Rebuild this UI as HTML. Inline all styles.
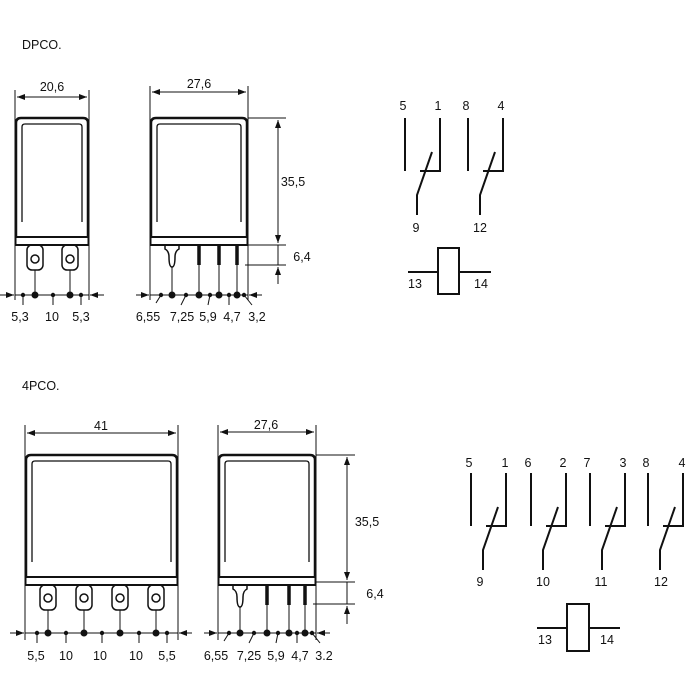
<!DOCTYPE html>
<html><head><meta charset="utf-8"><style>
html,body{margin:0;padding:0;background:#fff}
svg{display:block}
text{font-family:"Liberation Sans",Arial,sans-serif;font-size:12.5px;fill:#111}
</style></head><body>
<svg width="700" height="700" viewBox="0 0 700 700" xmlns="http://www.w3.org/2000/svg">
<defs>
<marker id="a" markerWidth="8" markerHeight="6" refX="8" refY="3" orient="auto-start-reverse" markerUnits="userSpaceOnUse"><path d="M0,0 L8,3 L0,6 Z" fill="#111"/></marker>
<g id="contact" stroke="#111" stroke-width="2" fill="none">
<line x1="0" y1="0" x2="0" y2="53"/>
<polyline points="35,0 35,53 15,53"/>
<polyline points="12,97 12,77 27,34"/>
</g>
</defs>

<text x="22" y="49">DPCO.</text>
<text x="22" y="390">4PCO.</text>

<g stroke="#111" fill="none">
<!-- ===== DPCO front ===== -->
<line x1="15" y1="90" x2="15" y2="300" stroke-width="1"/>
<line x1="89" y1="90" x2="89" y2="300" stroke-width="1"/>
<line x1="17" y1="97" x2="87" y2="97" stroke-width="1" marker-start="url(#a)" marker-end="url(#a)"/>
<path d="M16,238 V123 Q16,118 21,118 H83 Q88,118 88,123 V238" stroke-width="2.5"/>
<path d="M22,222 V127 Q22,124 25,124 H79 Q82,124 82,127 V222" stroke-width="1.3"/>
<rect x="15.5" y="237" width="73" height="8" stroke-width="2" fill="#fff"/>
<rect x="27" y="245" width="16" height="25" rx="5" stroke-width="1.5"/>
<circle cx="35" cy="259" r="4" stroke-width="1.5"/>
<rect x="62" y="245" width="16" height="25" rx="5" stroke-width="1.5"/>
<circle cx="70" cy="259" r="4" stroke-width="1.5"/>
<line x1="35" y1="270" x2="35" y2="295" stroke-width="1"/>
<line x1="70" y1="270" x2="70" y2="295" stroke-width="1"/>
<line x1="0" y1="295" x2="14" y2="295" stroke-width="1" marker-end="url(#a)"/>
<line x1="104" y1="295" x2="90" y2="295" stroke-width="1" marker-end="url(#a)"/>
<line x1="15" y1="295" x2="89" y2="295" stroke-width="1"/>
<line x1="23" y1="295" x2="23" y2="305" stroke-width="1"/>
<line x1="53" y1="295" x2="53" y2="305" stroke-width="1"/>
<line x1="81" y1="295" x2="81" y2="305" stroke-width="1"/>

<!-- ===== DPCO side ===== -->
<line x1="150" y1="86" x2="150" y2="300" stroke-width="1"/>
<line x1="248" y1="86" x2="248" y2="300" stroke-width="1"/>
<line x1="152" y1="92" x2="246" y2="92" stroke-width="1" marker-start="url(#a)" marker-end="url(#a)"/>
<path d="M151,238 V123 Q151,118 156,118 H242 Q247,118 247,123 V238" stroke-width="2.5"/>
<path d="M157,222 V127 Q157,124 160,124 H238 Q241,124 241,127 V222" stroke-width="1.3"/>
<rect x="150.5" y="237" width="97" height="8" stroke-width="2" fill="#fff"/>
<path d="M165,245 V249 Q169,251 169,257 Q169,267 172,267 Q175,267 175,257 Q175,251 179,249 V245" stroke-width="1.5"/>
<line x1="172" y1="267" x2="172" y2="295" stroke-width="1"/>
<line x1="199" y1="245" x2="199" y2="265" stroke-width="3.5"/>
<line x1="219" y1="245" x2="219" y2="265" stroke-width="3.5"/>
<line x1="237" y1="245" x2="237" y2="265" stroke-width="3.5"/>
<line x1="199" y1="265" x2="199" y2="295" stroke-width="1"/>
<line x1="219" y1="265" x2="219" y2="295" stroke-width="1"/>
<line x1="237" y1="265" x2="237" y2="295" stroke-width="1"/>
<line x1="136" y1="295" x2="149" y2="295" stroke-width="1" marker-end="url(#a)"/>
<line x1="262" y1="295" x2="249" y2="295" stroke-width="1" marker-end="url(#a)"/>
<line x1="150" y1="295" x2="248" y2="295" stroke-width="1"/>
<line x1="161" y1="295" x2="156" y2="303" stroke-width="1"/>
<line x1="186" y1="295" x2="181" y2="305" stroke-width="1"/>
<line x1="210" y1="295" x2="208" y2="305" stroke-width="1"/>
<line x1="229" y1="295" x2="229" y2="305" stroke-width="1"/>
<line x1="244" y1="295" x2="252" y2="305" stroke-width="1"/>
<!-- vertical dims -->
<line x1="248" y1="118" x2="286" y2="118" stroke-width="1"/>
<line x1="248" y1="245" x2="286" y2="245" stroke-width="1"/>
<line x1="245" y1="265" x2="286" y2="265" stroke-width="1"/>
<line x1="278" y1="120" x2="278" y2="243" stroke-width="1" marker-start="url(#a)" marker-end="url(#a)"/>
<line x1="278" y1="245" x2="278" y2="265" stroke-width="1"/>
<line x1="278" y1="284" x2="278" y2="267" stroke-width="1" marker-end="url(#a)"/>

<!-- ===== 4PCO front ===== -->
<line x1="25" y1="425" x2="25" y2="640" stroke-width="1"/>
<line x1="178" y1="425" x2="178" y2="640" stroke-width="1"/>
<line x1="27" y1="433" x2="176" y2="433" stroke-width="1" marker-start="url(#a)" marker-end="url(#a)"/>
<path d="M26,578 V460 Q26,455 31,455 H172 Q177,455 177,460 V578" stroke-width="2.5"/>
<path d="M32,562 V464 Q32,461 35,461 H168 Q171,461 171,464 V562" stroke-width="1.3"/>
<rect x="25.5" y="577" width="152" height="8" stroke-width="2" fill="#fff"/>
<rect x="40" y="585" width="16" height="25" rx="5" stroke-width="1.5"/><circle cx="48" cy="598" r="4" stroke-width="1.5"/>
<rect x="76" y="585" width="16" height="25" rx="5" stroke-width="1.5"/><circle cx="84" cy="598" r="4" stroke-width="1.5"/>
<rect x="112" y="585" width="16" height="25" rx="5" stroke-width="1.5"/><circle cx="120" cy="598" r="4" stroke-width="1.5"/>
<rect x="148" y="585" width="16" height="25" rx="5" stroke-width="1.5"/><circle cx="156" cy="598" r="4" stroke-width="1.5"/>
<line x1="48" y1="610" x2="48" y2="633" stroke-width="1"/>
<line x1="84" y1="610" x2="84" y2="633" stroke-width="1"/>
<line x1="120" y1="610" x2="120" y2="633" stroke-width="1"/>
<line x1="156" y1="610" x2="156" y2="633" stroke-width="1"/>
<line x1="10" y1="633" x2="24" y2="633" stroke-width="1" marker-end="url(#a)"/>
<line x1="192" y1="633" x2="179" y2="633" stroke-width="1" marker-end="url(#a)"/>
<line x1="25" y1="633" x2="178" y2="633" stroke-width="1"/>
<line x1="37" y1="633" x2="37" y2="643" stroke-width="1"/>
<line x1="66" y1="633" x2="66" y2="643" stroke-width="1"/>
<line x1="102" y1="633" x2="102" y2="643" stroke-width="1"/>
<line x1="139" y1="633" x2="139" y2="643" stroke-width="1"/>
<line x1="167" y1="633" x2="167" y2="643" stroke-width="1"/>

<!-- ===== 4PCO side ===== -->
<line x1="218" y1="425" x2="218" y2="640" stroke-width="1"/>
<line x1="316" y1="425" x2="316" y2="640" stroke-width="1"/>
<line x1="220" y1="432" x2="314" y2="432" stroke-width="1" marker-start="url(#a)" marker-end="url(#a)"/>
<path d="M219,578 V460 Q219,455 224,455 H310 Q315,455 315,460 V578" stroke-width="2.5"/>
<path d="M225,562 V464 Q225,461 228,461 H306 Q309,461 309,464 V562" stroke-width="1.3"/>
<rect x="218.5" y="577" width="97" height="8" stroke-width="2" fill="#fff"/>
<path d="M233,585 V589 Q237,591 237,597 Q237,607 240,607 Q243,607 243,597 Q243,591 247,589 V585" stroke-width="1.5"/>
<line x1="240" y1="607" x2="240" y2="633" stroke-width="1"/>
<line x1="267" y1="585" x2="267" y2="605" stroke-width="3.5"/>
<line x1="289" y1="585" x2="289" y2="605" stroke-width="3.5"/>
<line x1="305" y1="585" x2="305" y2="605" stroke-width="3.5"/>
<line x1="267" y1="605" x2="267" y2="633" stroke-width="1"/>
<line x1="289" y1="605" x2="289" y2="633" stroke-width="1"/>
<line x1="305" y1="605" x2="305" y2="633" stroke-width="1"/>
<line x1="204" y1="633" x2="217" y2="633" stroke-width="1" marker-end="url(#a)"/>
<line x1="330" y1="633" x2="317" y2="633" stroke-width="1" marker-end="url(#a)"/>
<line x1="218" y1="633" x2="316" y2="633" stroke-width="1"/>
<line x1="229" y1="633" x2="224" y2="641" stroke-width="1"/>
<line x1="254" y1="633" x2="249" y2="643" stroke-width="1"/>
<line x1="278" y1="633" x2="276" y2="643" stroke-width="1"/>
<line x1="297" y1="633" x2="297" y2="643" stroke-width="1"/>
<line x1="312" y1="633" x2="320" y2="643" stroke-width="1"/>
<line x1="316" y1="455" x2="355" y2="455" stroke-width="1"/>
<line x1="316" y1="582" x2="355" y2="582" stroke-width="1"/>
<line x1="313" y1="604" x2="355" y2="604" stroke-width="1"/>
<line x1="347" y1="457" x2="347" y2="580" stroke-width="1" marker-start="url(#a)" marker-end="url(#a)"/>
<line x1="347" y1="582" x2="347" y2="604" stroke-width="1"/>
<line x1="347" y1="624" x2="347" y2="606" stroke-width="1" marker-end="url(#a)"/>

<!-- ===== schematics ===== -->
<use href="#contact" x="405" y="118"/>
<use href="#contact" x="468" y="118"/>
<rect x="438" y="248" width="21" height="46" stroke-width="2" fill="#fff"/>
<line x1="408" y1="272" x2="438" y2="272" stroke-width="2"/>
<line x1="459" y1="272" x2="491" y2="272" stroke-width="2"/>

<use href="#contact" x="471" y="473"/>
<use href="#contact" x="531" y="473"/>
<use href="#contact" x="590" y="473"/>
<use href="#contact" x="648" y="473"/>
<rect x="567" y="604" width="22" height="47" stroke-width="2" fill="#fff"/>
<line x1="537" y1="628" x2="567" y2="628" stroke-width="2"/>
<line x1="589" y1="628" x2="620" y2="628" stroke-width="2"/>
</g>

<!-- dots -->
<g fill="#111">
<circle cx="23" cy="295" r="2.2"/><circle cx="35" cy="295" r="3.5"/><circle cx="53" cy="295" r="2.2"/><circle cx="70" cy="295" r="3.5"/><circle cx="81" cy="295" r="2.2"/>
<circle cx="161" cy="295" r="2.2"/><circle cx="172" cy="295" r="3.5"/><circle cx="186" cy="295" r="2.2"/><circle cx="199" cy="295" r="3.5"/><circle cx="210" cy="295" r="2.2"/><circle cx="219" cy="295" r="3.5"/><circle cx="229" cy="295" r="2.2"/><circle cx="237" cy="295" r="3.5"/><circle cx="244" cy="295" r="2.2"/>
<circle cx="37" cy="633" r="2.2"/><circle cx="48" cy="633" r="3.5"/><circle cx="66" cy="633" r="2.2"/><circle cx="84" cy="633" r="3.5"/><circle cx="102" cy="633" r="2.2"/><circle cx="120" cy="633" r="3.5"/><circle cx="139" cy="633" r="2.2"/><circle cx="156" cy="633" r="3.5"/><circle cx="167" cy="633" r="2.2"/>
<circle cx="229" cy="633" r="2.2"/><circle cx="240" cy="633" r="3.5"/><circle cx="254" cy="633" r="2.2"/><circle cx="267" cy="633" r="3.5"/><circle cx="278" cy="633" r="2.2"/><circle cx="289" cy="633" r="3.5"/><circle cx="297" cy="633" r="2.2"/><circle cx="305" cy="633" r="3.5"/><circle cx="312" cy="633" r="2.2"/>
</g>

<!-- labels -->
<g text-anchor="middle">
<text x="52" y="91">20,6</text>
<text x="199" y="88">27,6</text>
<text x="20" y="321">5,3</text><text x="52" y="321">10</text><text x="81" y="321">5,3</text>
<text x="148" y="321">6,55</text><text x="182" y="321">7,25</text><text x="208" y="321">5,9</text><text x="232" y="321">4,7</text><text x="257" y="321">3,2</text>
<text x="293" y="186">35,5</text><text x="302" y="261">6,4</text>

<text x="101" y="430">41</text>
<text x="266" y="429">27,6</text>
<text x="36" y="660">5,5</text><text x="66" y="660">10</text><text x="100" y="660">10</text><text x="136" y="660">10</text><text x="167" y="660">5,5</text>
<text x="216" y="660">6,55</text><text x="249" y="660">7,25</text><text x="276" y="660">5,9</text><text x="300" y="660">4,7</text><text x="324" y="660">3.2</text>
<text x="367" y="526">35,5</text><text x="375" y="598">6,4</text>

<text x="403" y="110">5</text><text x="438" y="110">1</text><text x="466" y="110">8</text><text x="501" y="110">4</text>
<text x="416" y="232">9</text><text x="480" y="232">12</text>
<text x="415" y="288">13</text><text x="481" y="288">14</text>

<text x="469" y="467">5</text><text x="505" y="467">1</text><text x="528" y="467">6</text><text x="563" y="467">2</text><text x="587" y="467">7</text><text x="623" y="467">3</text><text x="646" y="467">8</text><text x="682" y="467">4</text>
<text x="480" y="586">9</text><text x="543" y="586">10</text><text x="601" y="586">11</text><text x="661" y="586">12</text>
<text x="545" y="644">13</text><text x="607" y="644">14</text>
</g>
</svg>
</body></html>
